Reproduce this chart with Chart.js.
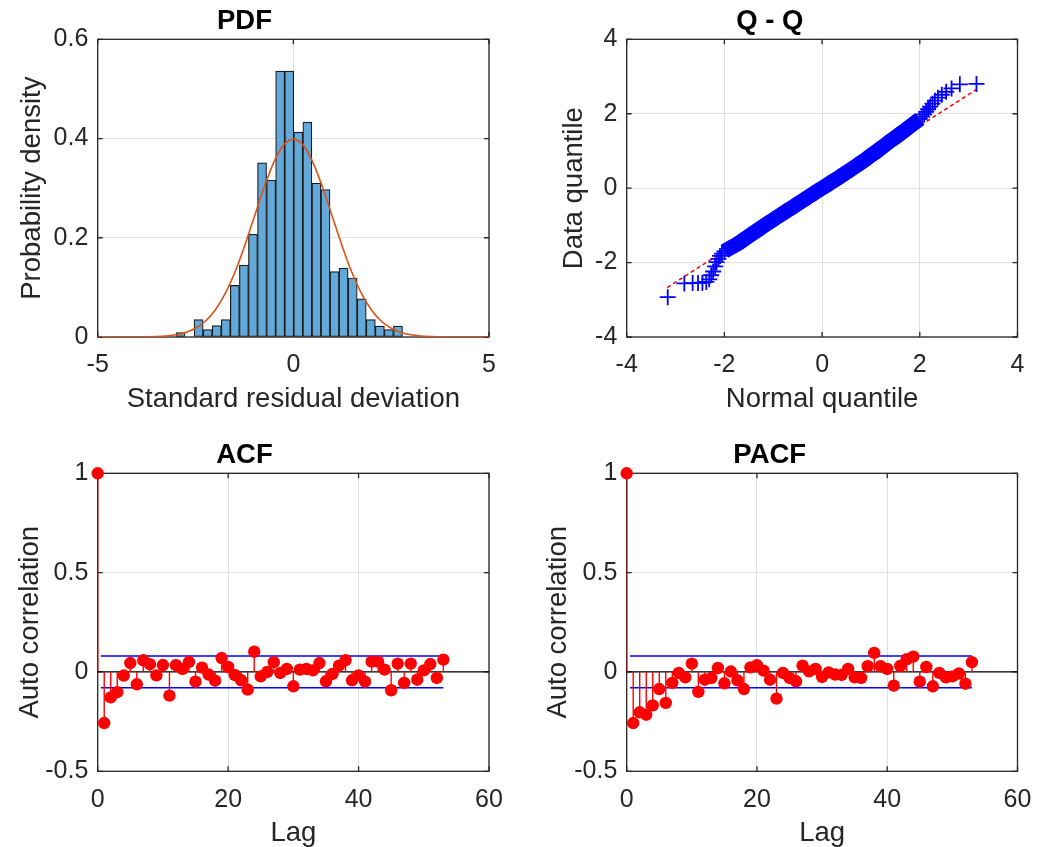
<!DOCTYPE html>
<html><head><meta charset="utf-8">
<script src="https://cdn.jsdelivr.net/npm/chart.js@4.4.1/dist/chart.umd.min.js"></script>
<style>
html,body{margin:0;padding:0;background:#fff;width:1045px;height:847px;overflow:hidden;}
canvas{position:absolute;}
</style></head><body>
<canvas id="c1" width="522" height="423" style="left:0px;top:0px"></canvas>
<canvas id="c2" width="523" height="423" style="left:522px;top:0px"></canvas>
<canvas id="c3" width="522" height="424" style="left:0px;top:423px"></canvas>
<canvas id="c4" width="523" height="424" style="left:522px;top:423px"></canvas>
<script>
// ---------- DATA ----------
const histBinCenters = [-2.884,-2.653,-2.421,-2.189,-1.958,-1.726,-1.495,-1.263,-1.032,-0.800,-0.568,-0.337,-0.105,0.126,0.358,0.590,0.821,1.053,1.284,1.516,1.747,1.979,2.211,2.442,2.674];
const histDensity = [0.009,0,0.035,0.015,0.023,0.035,0.104,0.145,0.207,0.351,0.316,0.536,0.536,0.413,0.433,0.310,0.297,0.132,0.139,0.119,0.077,0.035,0.022,0.015,0.022];

const normalX = [-5,-4.75,-4.5,-4.25,-4,-3.75,-3.5,-3.25,-3,-2.75,-2.5,-2.25,-2,-1.75,-1.5,-1.25,-1,-0.75,-0.5,-0.25,0,0.25,0.5,0.75,1,1.25,1.5,1.75,2,2.25,2.5,2.75,3,3.25,3.5,3.75,4,4.25,4.5,4.75,5];
const normalPdf = [0,0,0,0,0.0001,0.0004,0.0009,0.0020,0.0044,0.0091,0.0175,0.0317,0.0540,0.0863,0.1295,0.1826,0.2420,0.3011,0.3521,0.3867,0.3989,0.3867,0.3521,0.3011,0.2420,0.1826,0.1295,0.0863,0.0540,0.0317,0.0175,0.0091,0.0044,0.0020,0.0009,0.0004,0.0001,0,0,0,0];

// Q-Q: lower tail markers, dense band, upper tail markers
const qqLowX = [-3.16,-2.82,-2.65,-2.54,-2.45,-2.37,-2.31,-2.27,-2.23,-2.19,-2.16,-2.12,-2.09,-2.05];
const qqLowY = [-2.93,-2.56,-2.55,-2.55,-2.54,-2.52,-2.45,-2.34,-2.24,-2.10,-1.99,-1.90,-1.82,-1.76];
const qqBandX = [-2.0,-1.9,-1.8,-1.7,-1.6,-1.5,-1.4,-1.3,-1.2,-1.1,-1.0,-0.9,-0.8,-0.7,-0.6,-0.5,-0.4,-0.3,-0.2,-0.1,0.0,0.1,0.2,0.3,0.4,0.5,0.6,0.7,0.8,0.9,1.0,1.1,1.2,1.3,1.4,1.5,1.6,1.7,1.8,1.9,2.0];
const qqBandY = [-1.70,-1.62,-1.55,-1.47,-1.38,-1.29,-1.20,-1.11,-1.02,-0.93,-0.85,-0.76,-0.68,-0.59,-0.51,-0.42,-0.34,-0.25,-0.17,-0.08,0.00,0.08,0.17,0.25,0.34,0.42,0.51,0.60,0.69,0.78,0.88,0.97,1.07,1.17,1.27,1.36,1.46,1.56,1.66,1.76,1.86];
const qqHighX = [2.05,2.09,2.13,2.17,2.21,2.26,2.31,2.37,2.45,2.54,2.65,2.82,3.16];
const qqHighY = [1.92,1.98,2.05,2.12,2.19,2.27,2.35,2.43,2.51,2.59,2.68,2.79,2.80];
const qqRefX = [-3.17, 3.17];
const qqRefY = [-2.67, 2.66];

const acfValues = [1,-0.257,-0.128,-0.102,-0.018,0.045,-0.062,0.059,0.039,-0.017,0.035,-0.119,0.034,0.015,0.050,-0.049,0.022,-0.013,-0.044,0.070,0.025,-0.015,-0.042,-0.089,0.102,-0.022,0.000,0.049,-0.005,0.015,-0.072,0.012,0.015,0.008,0.045,-0.047,-0.010,0.032,0.059,-0.042,-0.017,-0.049,0.052,0.052,0.012,-0.092,0.042,-0.055,0.042,-0.039,0.008,0.040,-0.030,0.062];
const pacfValues = [1,-0.257,-0.203,-0.215,-0.168,-0.086,-0.156,-0.055,-0.005,-0.027,0.042,-0.100,-0.039,-0.030,0.020,-0.057,0.002,-0.042,-0.086,0.023,0.034,0.007,-0.039,-0.134,-0.005,-0.030,-0.047,0.032,0.003,0.015,-0.025,-0.002,-0.013,-0.015,0.015,-0.027,-0.030,0.029,0.096,0.029,0.015,-0.069,0.030,0.064,0.077,-0.049,0.025,-0.072,-0.005,-0.027,-0.022,-0.008,-0.059,0.049];
const confBound = 0.08;
const boundLagRange = [0.5, 53];

// ---------- STYLE / HELPERS ----------
const FONT = '"Liberation Sans", Arial, Helvetica, sans-serif';
const AX = '#262626', GRID = '#dfdfdf';

const boxPlugin = {
  id: 'matlabBox',
  beforeDatasetsDraw(chart) {
    const {ctx, chartArea: a} = chart;
    const sx = chart.scales.x, sy = chart.scales.y;
    const L = 5;
    ctx.save();
    ctx.strokeStyle = AX; ctx.lineWidth = 1.3;
    ctx.beginPath();
    sx.ticks.forEach(t => { const p = sx.getPixelForValue(t.value);
      ctx.moveTo(p, a.bottom); ctx.lineTo(p, a.bottom - L); ctx.moveTo(p, a.top); ctx.lineTo(p, a.top + L); });
    sy.ticks.forEach(t => { const p = sy.getPixelForValue(t.value);
      ctx.moveTo(a.left, p); ctx.lineTo(a.left + L, p); ctx.moveTo(a.right, p); ctx.lineTo(a.right - L, p); });
    ctx.stroke();
    ctx.strokeRect(a.left, a.top, a.right - a.left, a.bottom - a.top);
    ctx.restore();
  }
};

const fmt = v => String(Math.round(v * 1000) / 1000);
function axes(o) {
  const tickFont = {family: FONT, size: 25};
  const labFont = {family: FONT, size: 27.5};
  return {
    x: {type:'linear', min:o.xMin, max:o.xMax, offset:false,
      ticks:{stepSize:o.xStep, color:AX, font:tickFont, padding:13.5, maxRotation:0, autoSkip:false, callback: fmt},
      grid:{color:GRID, lineWidth:1, drawTicks:false, offset:false},
      border:{display:false},
      title:{display:true, text:o.xTitle, color:AX, font:labFont, padding:{top:0, bottom:o.xTitlePad}},
      afterFit(s){ s.height = o.xHeight; }},
    y: {type:'linear', min:o.yMin, max:o.yMax,
      ticks:{stepSize:o.yStep, color:AX, font:tickFont, padding:9.4, callback: fmt},
      grid:{color:GRID, lineWidth:1, drawTicks:false},
      border:{display:false},
      title:{display:true, text:o.yTitle, color:AX, font:labFont, padding:{top:o.yTitlePad, bottom:0}},
      afterFit(s){ s.width = o.yWidth; }}
  };
}
function plug(title, pt, pb) {
  return {legend:{display:false}, tooltip:{enabled:false},
    title:{display:true, text:title, color:'#000', font:{family:FONT, size:27.5, weight:'bold'}, padding:{top:pt, bottom:pb}}};
}
const pts = (xs, ys) => xs.map((x, i) => ({x, y: ys[i]}));

// ---------- PDF ----------
new Chart(document.getElementById('c1'), {
  type: 'bar',
  data: {datasets: [
    {type:'line', data: pts(normalX, normalPdf), borderColor:'#D95319', borderWidth:1.6, pointRadius:0, cubicInterpolationMode:'monotone', order:0},
    {type:'bar', data: pts(histBinCenters, histDensity), backgroundColor:'#62a9da', borderColor:'#1a1a1a', borderWidth:1.2, borderSkipped:false, barPercentage:1, categoryPercentage:1, order:1}
  ]},
  options: {responsive:false, animation:false, events:[],
    layout:{padding:{left:0, right:33, top:0, bottom:0}},
    plugins: plug('PDF', 5, 1.3),
    scales: axes({xMin:-5, xMax:5, xStep:5, yMin:0, yMax:0.6, yStep:0.2, xTitle:'Standard residual deviation', yTitle:'Probability density', xTitlePad:7, yTitlePad:16, xHeight:86, yWidth:97.7})},
  plugins:[boxPlugin]
});

// ---------- Q-Q ----------
const qqAllX = qqLowX.concat(qqBandX, qqHighX);
const qqAllY = qqLowY.concat(qqBandY, qqHighY);
new Chart(document.getElementById('c2'), {
  type: 'scatter',
  data: {datasets: [
    {data: pts(qqAllX, qqAllY), showLine:false, pointStyle:'cross', pointRadius:8, pointBorderColor:'#0000ff', pointBorderWidth:1.8, order:0},
    {data: pts(qqBandX, qqBandY), showLine:true, borderColor:'#0000ff', borderWidth:15, pointRadius:0, order:1},
    {data: pts(qqRefX, qqRefY), showLine:true, borderColor:'#ff0000', borderWidth:1.5, borderDash:[4,3], pointRadius:0, order:2}
  ]},
  options: {responsive:false, animation:false, events:[],
    layout:{padding:{left:0, right:27.5, top:0, bottom:0}},
    plugins: plug('Q - Q', 5, 1.3),
    scales: axes({xMin:-4, xMax:4, xStep:2, yMin:-4, yMax:4, yStep:2, xTitle:'Normal quantile', yTitle:'Data quantile', xTitlePad:7, yTitlePad:36, xHeight:86, yWidth:104.7})},
  plugins:[boxPlugin]
});

// ---------- ACF / PACF ----------
function stemChart(id, title, values, yTitlePad, yWidth, rightPad) {
  const markers = values.map((v, k) => ({x:k, y:v}));
  const stems = values.flatMap((v, k) => [{x:k, y:0}, {x:k, y:v}, {x:k, y:null}]);
  new Chart(document.getElementById(id), {
    type: 'scatter',
    data: {datasets: [
      {data: markers, showLine:false, pointStyle:'circle', pointRadius:6.2, pointBackgroundColor:'#ff0000', pointBorderColor:'#ff0000', pointBorderWidth:0, clip:false, order:0},
      {data: stems, showLine:true, spanGaps:false, borderColor:'#ff0000', borderWidth:1.4, pointRadius:0, order:1},
      {data: pts(boundLagRange, [confBound, confBound]), showLine:true, borderColor:'#0000ff', borderWidth:1.5, pointRadius:0, order:2},
      {data: pts(boundLagRange, [-confBound, -confBound]), showLine:true, borderColor:'#0000ff', borderWidth:1.5, pointRadius:0, order:2},
      {data: pts([0, 60], [0, 0]), showLine:true, borderColor:'#000000', borderWidth:1.3, pointRadius:0, order:3}
    ]},
    options: {responsive:false, animation:false, events:[],
      layout:{padding:{left:0, right:rightPad, top:0, bottom:0}},
      plugins: plug(title, 16, 1.3),
      scales: axes({xMin:0, xMax:60, xStep:20, yMin:-0.5, yMax:1, yStep:0.5, xTitle:'Lag', yTitle:'Auto correlation', xTitlePad:-3, yTitlePad:yTitlePad, xHeight:75.7, yWidth:yWidth})},
    plugins:[boxPlugin]
  });
}
stemChart('c3', 'ACF', acfValues, 13.5, 97.7, 33);
stemChart('c4', 'PACF', pacfValues, 19.5, 104.7, 27.5);
</script>
</body></html>
